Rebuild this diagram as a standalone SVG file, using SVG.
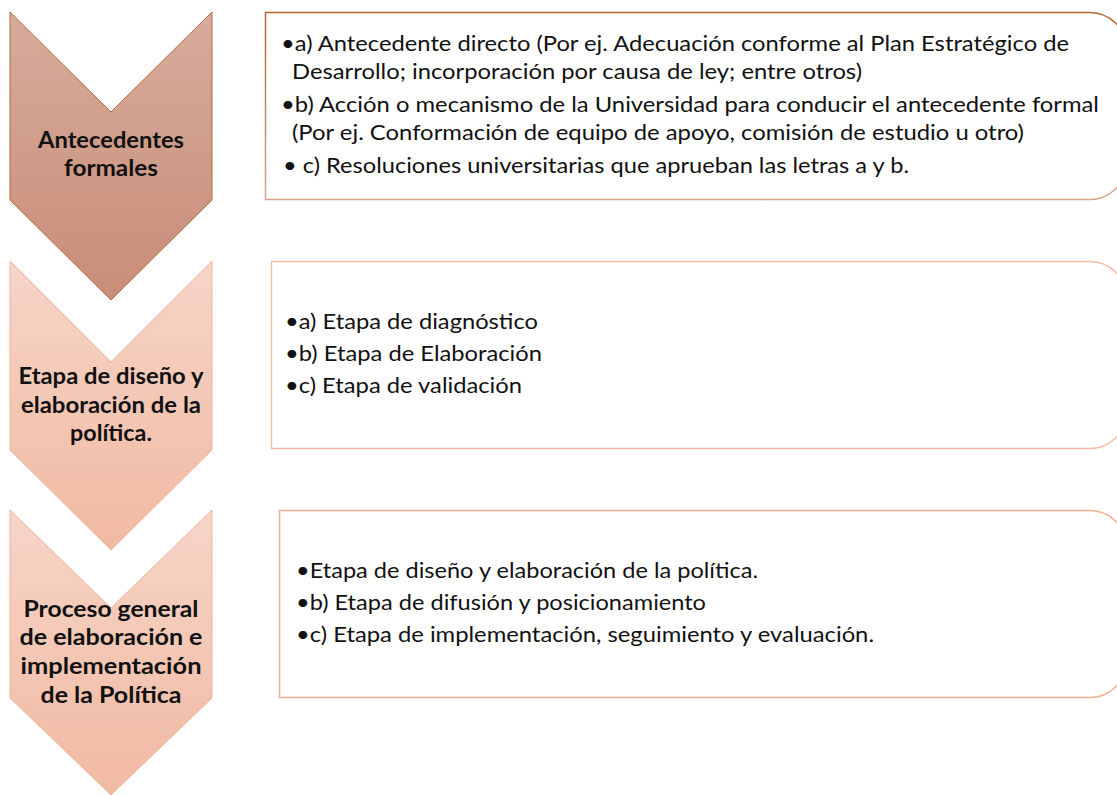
<svg xmlns="http://www.w3.org/2000/svg" width="1117" height="795" viewBox="0 0 1117 795">
<defs>
<linearGradient id="g1" x1="0" y1="0" x2="0" y2="1"><stop offset="0" stop-color="#d7ab9c"/><stop offset="1" stop-color="#c88d77"/></linearGradient>
<linearGradient id="g2" x1="0" y1="0" x2="0" y2="1"><stop offset="0" stop-color="#f6d5c8"/><stop offset="1" stop-color="#f1b9a2"/></linearGradient>
<linearGradient id="s1" x1="0" y1="0" x2="0" y2="1"><stop offset="0" stop-color="#b8642c"/><stop offset="1" stop-color="#d8a58e"/></linearGradient>
<style>
.chev1{fill:url(#g1);stroke:#b9693f;stroke-width:1}
.chev2{fill:url(#g2);stroke:#f0b498;stroke-width:1}
.box{fill:#ffffff;stroke-width:1.5}
.lab{font-family:Lato,"Liberation Sans",sans-serif;font-weight:bold;font-size:22.5px;fill:#111;text-anchor:middle}
.txt{font-family:Lato,"Liberation Sans",sans-serif;font-size:22px;fill:#111}
</style>
</defs>
<g id="chevron1">
<polygon class="chev1" points="10,12 111,112 212,12 212,200 111,300 10,200"/>
<text class="lab" x="111" y="148" textLength="146" lengthAdjust="spacingAndGlyphs">Antecedentes</text>
<text class="lab" x="111" y="176" textLength="94" lengthAdjust="spacingAndGlyphs">formales</text>
</g>
<g id="chevron2">
<polygon class="chev2" points="10,261 111,362 212,261 212,450 111,550 10,450"/>
<text class="lab" x="111" y="384" textLength="185" lengthAdjust="spacingAndGlyphs">Etapa de diseño y</text>
<text class="lab" x="111" y="413" textLength="180" lengthAdjust="spacingAndGlyphs">elaboración de la</text>
<text class="lab" x="111" y="441" textLength="82" lengthAdjust="spacingAndGlyphs">política.</text>
</g>
<g id="chevron3">
<polygon class="chev2" points="10,510 111,608 212,510 212,698 111,795 10,698"/>
<text class="lab" x="111" y="617" textLength="175" lengthAdjust="spacingAndGlyphs">Proceso general</text>
<text class="lab" x="111" y="645" textLength="183" lengthAdjust="spacingAndGlyphs">de elaboración e</text>
<text class="lab" x="111" y="674" textLength="181" lengthAdjust="spacingAndGlyphs">implementación</text>
<text class="lab" x="111" y="703" textLength="141" lengthAdjust="spacingAndGlyphs">de la Política</text>
</g>
<g id="box1">
<path class="box" stroke="url(#s1)" d="M265.5,12.5 H1090 A36,36 0 0 1 1126,48.5 V163.5 A36,36 0 0 1 1090,199.5 H265.5 Z"/>
<text class="txt" x="281" y="51" textLength="788" lengthAdjust="spacingAndGlyphs">•a) Antecedente directo (Por ej. Adecuación conforme al Plan Estratégico de</text>
<text class="txt" x="292" y="79" textLength="570" lengthAdjust="spacingAndGlyphs">Desarrollo; incorporación por causa de ley; entre otros)</text>
<text class="txt" x="281" y="112" textLength="818" lengthAdjust="spacingAndGlyphs">•b) Acción o mecanismo de la Universidad para conducir el antecedente formal</text>
<text class="txt" x="292" y="140" textLength="732" lengthAdjust="spacingAndGlyphs">(Por ej. Conformación de equipo de apoyo, comisión de estudio u otro)</text>
<text class="txt" x="283" y="173" textLength="626" lengthAdjust="spacingAndGlyphs">• c) Resoluciones universitarias que aprueban las letras a y b.</text>
</g>
<g id="box2">
<path class="box" stroke="#f2bda8" d="M271.5,261.5 H1090 A36,36 0 0 1 1126,297.5 V412.5 A36,36 0 0 1 1090,448.5 H271.5 Z"/>
<text class="txt" x="285" y="329" textLength="253" lengthAdjust="spacingAndGlyphs">•a) Etapa de diagnóstico</text>
<text class="txt" x="285" y="361" textLength="257" lengthAdjust="spacingAndGlyphs">•b) Etapa de Elaboración</text>
<text class="txt" x="285" y="393" textLength="237" lengthAdjust="spacingAndGlyphs">•c) Etapa de validación</text>
</g>
<g id="box3">
<path class="box" stroke="#efae92" d="M279.5,510.5 H1090 A36,36 0 0 1 1126,546.5 V661.5 A36,36 0 0 1 1090,697.5 H279.5 Z"/>
<text class="txt" x="296" y="578" textLength="462" lengthAdjust="spacingAndGlyphs">•Etapa de diseño y elaboración de la política.</text>
<text class="txt" x="296" y="610" textLength="410" lengthAdjust="spacingAndGlyphs">•b) Etapa de difusión y posicionamiento</text>
<text class="txt" x="296" y="642" textLength="578" lengthAdjust="spacingAndGlyphs">•c) Etapa de implementación, seguimiento y evaluación.</text>
</g>
<g id="connectors"/>
</svg>
